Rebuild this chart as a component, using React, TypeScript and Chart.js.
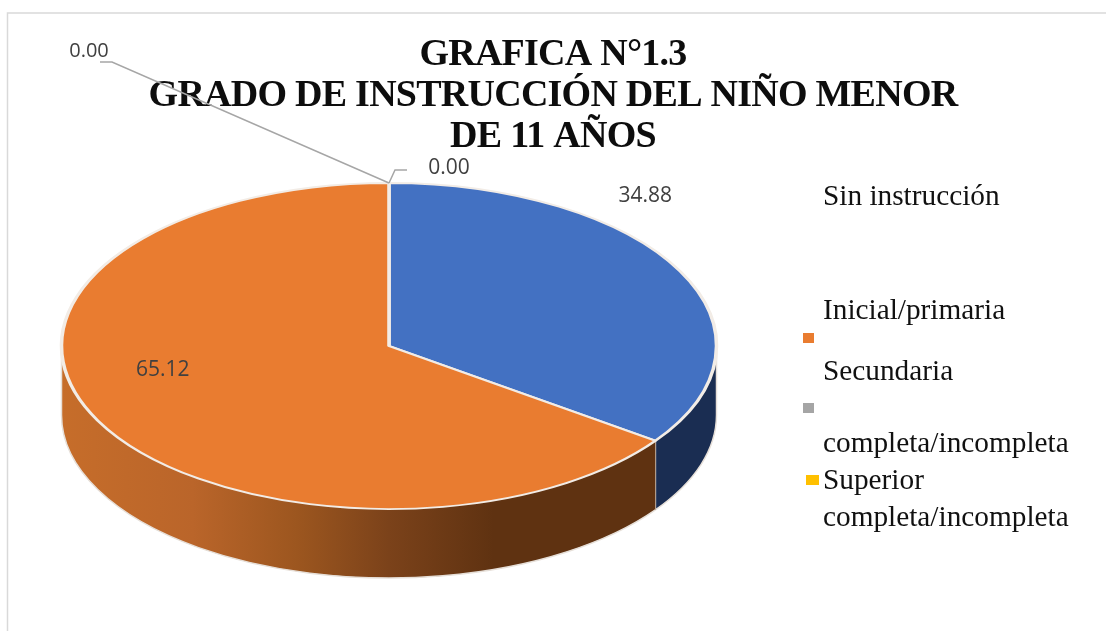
import React, { useEffect, useRef } from "react";
import { Chart, registerables } from "chart.js";

Chart.register(...registerables);

const categories = ["Sin instrucción", "Inicial/primaria", "Secundaria completa/incompleta", "Superior completa/incompleta"];
const values = [34.88, 65.12, 0.0, 0.0];
const sliceColors = ["#4371C2", "#E97C30", "#A5A5A5", "#FFC000"];
const titleLines = ["GRAFICA N°1.3", "GRADO DE INSTRUCCIÓN DEL NIÑO MENOR", "DE 11 AÑOS"];

// Legend lines as they wrap in the picture
const legendLines = ["Sin instrucción", "Inicial/primaria", "Secundaria", "completa/incompleta", "Superior", "completa/incompleta"];
const legendBaselines = [205, 319, 380, 452, 489, 526];
const legendMarkers = [
  { index: 1, x: 803, y: 333, w: 11, h: 10 },
  { index: 2, x: 803, y: 403, w: 11, h: 10 },
  { index: 3, x: 806, y: 475, w: 13, h: 10 },
];

// Tilted disc geometry on the page
const DISC = { cx: 389, cy: 346, rx: 327.5, ry: 163, depth: 69 };

// Data label placement, relative to the slice's mid-angle point on the rim
const labelOffsets = [[-35, -75], [65, -51], [60, -15], [-300, -132]];
const labelSizes = [21, 21, 21, 20];
// Leader lines of the zero slices, relative to the rim point
const leaders: Record<number, number[][]> = {
  2: [[6, -13], [18, -13]],
  3: [[-277, -121], [-289, -121]],
};

const wallStops: [number, string][] = [
  [0, "#C66D2A"],
  [0.2, "#BA652A"],
  [0.36, "#9C561F"],
  [0.5, "#7B421A"],
  [0.66, "#5F3211"],
  [1, "#5F3211"],
];
const blueWall = "#1A2D52";

const pieDepth = {
  id: "pieDepth",
  beforeDraw(chart: any) {
    const { ctx, width, height } = chart;
    ctx.save();
    ctx.strokeStyle = "#D9D9D9";
    ctx.lineWidth = 1.5;
    ctx.beginPath();
    ctx.moveTo(7.5, height);
    ctx.lineTo(7.5, 13);
    ctx.lineTo(width, 13);
    ctx.stroke();
    ctx.restore();
    ctx.letterSpacing = "-0.75px"; // tight setting of the title
  },
  beforeDatasetsDraw(chart: any) {
    const { ctx } = chart;
    ctx.letterSpacing = "0px";
    const { cx, cy, rx, ry, depth } = DISC;
    const arcs = chart.getDatasetMeta(0).data;
    arcs.forEach((arc: any, i: number) => {
      const { startAngle, endAngle } = arc.getProps(["startAngle", "endAngle"], true);
      const a0 = Math.max(startAngle, 0);
      const a1 = Math.min(endAngle, Math.PI);
      if (a1 <= a0) return;
      ctx.save();
      ctx.beginPath();
      ctx.ellipse(cx, cy, rx, ry, 0, a0, a1);
      ctx.ellipse(cx, cy + depth, rx, ry, 0, a1, a0, true);
      ctx.closePath();
      if (i === 0) {
        ctx.fillStyle = blueWall;
      } else {
        const g = ctx.createLinearGradient(cx - rx, 0, cx + rx, 0);
        wallStops.forEach(([p, c]) => g.addColorStop(p, c));
        ctx.fillStyle = g;
      }
      ctx.fill();
      ctx.strokeStyle = "#E6DFD8";
      ctx.lineWidth = 1.5;
      ctx.beginPath();
      ctx.ellipse(cx, cy + depth, rx, ry, 0, a0, a1);
      ctx.stroke();
      if (i === 0) {
        ctx.beginPath();
        ctx.moveTo(cx + rx * Math.cos(a1), cy + ry * Math.sin(a1));
        ctx.lineTo(cx + rx * Math.cos(a1), cy + depth + ry * Math.sin(a1));
        ctx.stroke();
        ctx.beginPath();
        ctx.moveTo(cx + rx, cy);
        ctx.lineTo(cx + rx, cy + depth);
        ctx.stroke();
      } else {
        ctx.beginPath();
        ctx.moveTo(cx - rx, cy);
        ctx.lineTo(cx - rx, cy + depth);
        ctx.stroke();
      }
      ctx.restore();
    });
    // squash the library's round pie onto the tilted disc
    const first = arcs[0].getProps(["x", "y", "outerRadius"], true);
    ctx.save();
    ctx.translate(cx, cy);
    ctx.scale(rx / first.outerRadius, ry / first.outerRadius);
    ctx.translate(-first.x, -first.y);
  },
  afterDatasetsDraw(chart: any) {
    const { ctx } = chart;
    ctx.restore();
    const { cx, cy, rx, ry } = DISC;
    const rim = (a: number) => [cx + rx * Math.cos(a), cy + ry * Math.sin(a)];
    chart.getDatasetMeta(0).data.forEach((arc: any, i: number) => {
      const { startAngle, endAngle } = arc.getProps(["startAngle", "endAngle"], true);
      const [px, py] = rim((startAngle + endAngle) / 2);
      const lead = leaders[i];
      ctx.save();
      if (lead) {
        ctx.strokeStyle = "#A6A6A6";
        ctx.lineWidth = 1.5;
        ctx.beginPath();
        ctx.moveTo(px, py);
        lead.forEach(([dx, dy]) => ctx.lineTo(px + dx, py + dy));
        ctx.stroke();
      }
      ctx.fillStyle = "#404040";
      ctx.font = `${labelSizes[i]}px "Open Sans"`;
      ctx.textAlign = "center";
      ctx.textBaseline = "middle";
      ctx.fillText(values[i].toFixed(2), px + labelOffsets[i][0], py + labelOffsets[i][1]);
      ctx.restore();
    });
    ctx.save();
    ctx.fillStyle = "#111111";
    ctx.font = '29.3px "Liberation Serif"';
    ctx.textAlign = "left";
    ctx.textBaseline = "alphabetic";
    legendLines.forEach((t, i) => ctx.fillText(t, 823, legendBaselines[i]));
    legendMarkers.forEach((m) => {
      ctx.fillStyle = sliceColors[m.index];
      ctx.fillRect(m.x, m.y, m.w, m.h);
    });
    ctx.restore();
  },
};

export default function App() {
  const ref = useRef<HTMLCanvasElement>(null);
  useEffect(() => {
    document.body.style.margin = "0";
    const chart = new Chart(ref.current as HTMLCanvasElement, {
      type: "pie",
      data: {
        labels: categories,
        datasets: [
          {
            data: values,
            backgroundColor: sliceColors,
            borderColor: "#F2ECE6",
            borderWidth: 2.5,
            clip: false,
          } as any,
        ],
      },
      options: {
        responsive: false,
        animation: false,
        layout: { padding: { top: 0, bottom: 2 } },
        plugins: {
          legend: { display: false },
          tooltip: { enabled: false },
          title: {
            display: true,
            text: titleLines,
            color: "#0D0D0D",
            font: { family: '"Liberation Serif"', size: 38, weight: "bold", lineHeight: 1.08 },
            padding: { top: 35, bottom: 8 },
          },
        },
      },
      plugins: [pieDepth],
    });
    return () => chart.destroy();
  }, []);
  return <canvas ref={ref} width={1106} height={631} style={{ display: "block" }} />;
}
